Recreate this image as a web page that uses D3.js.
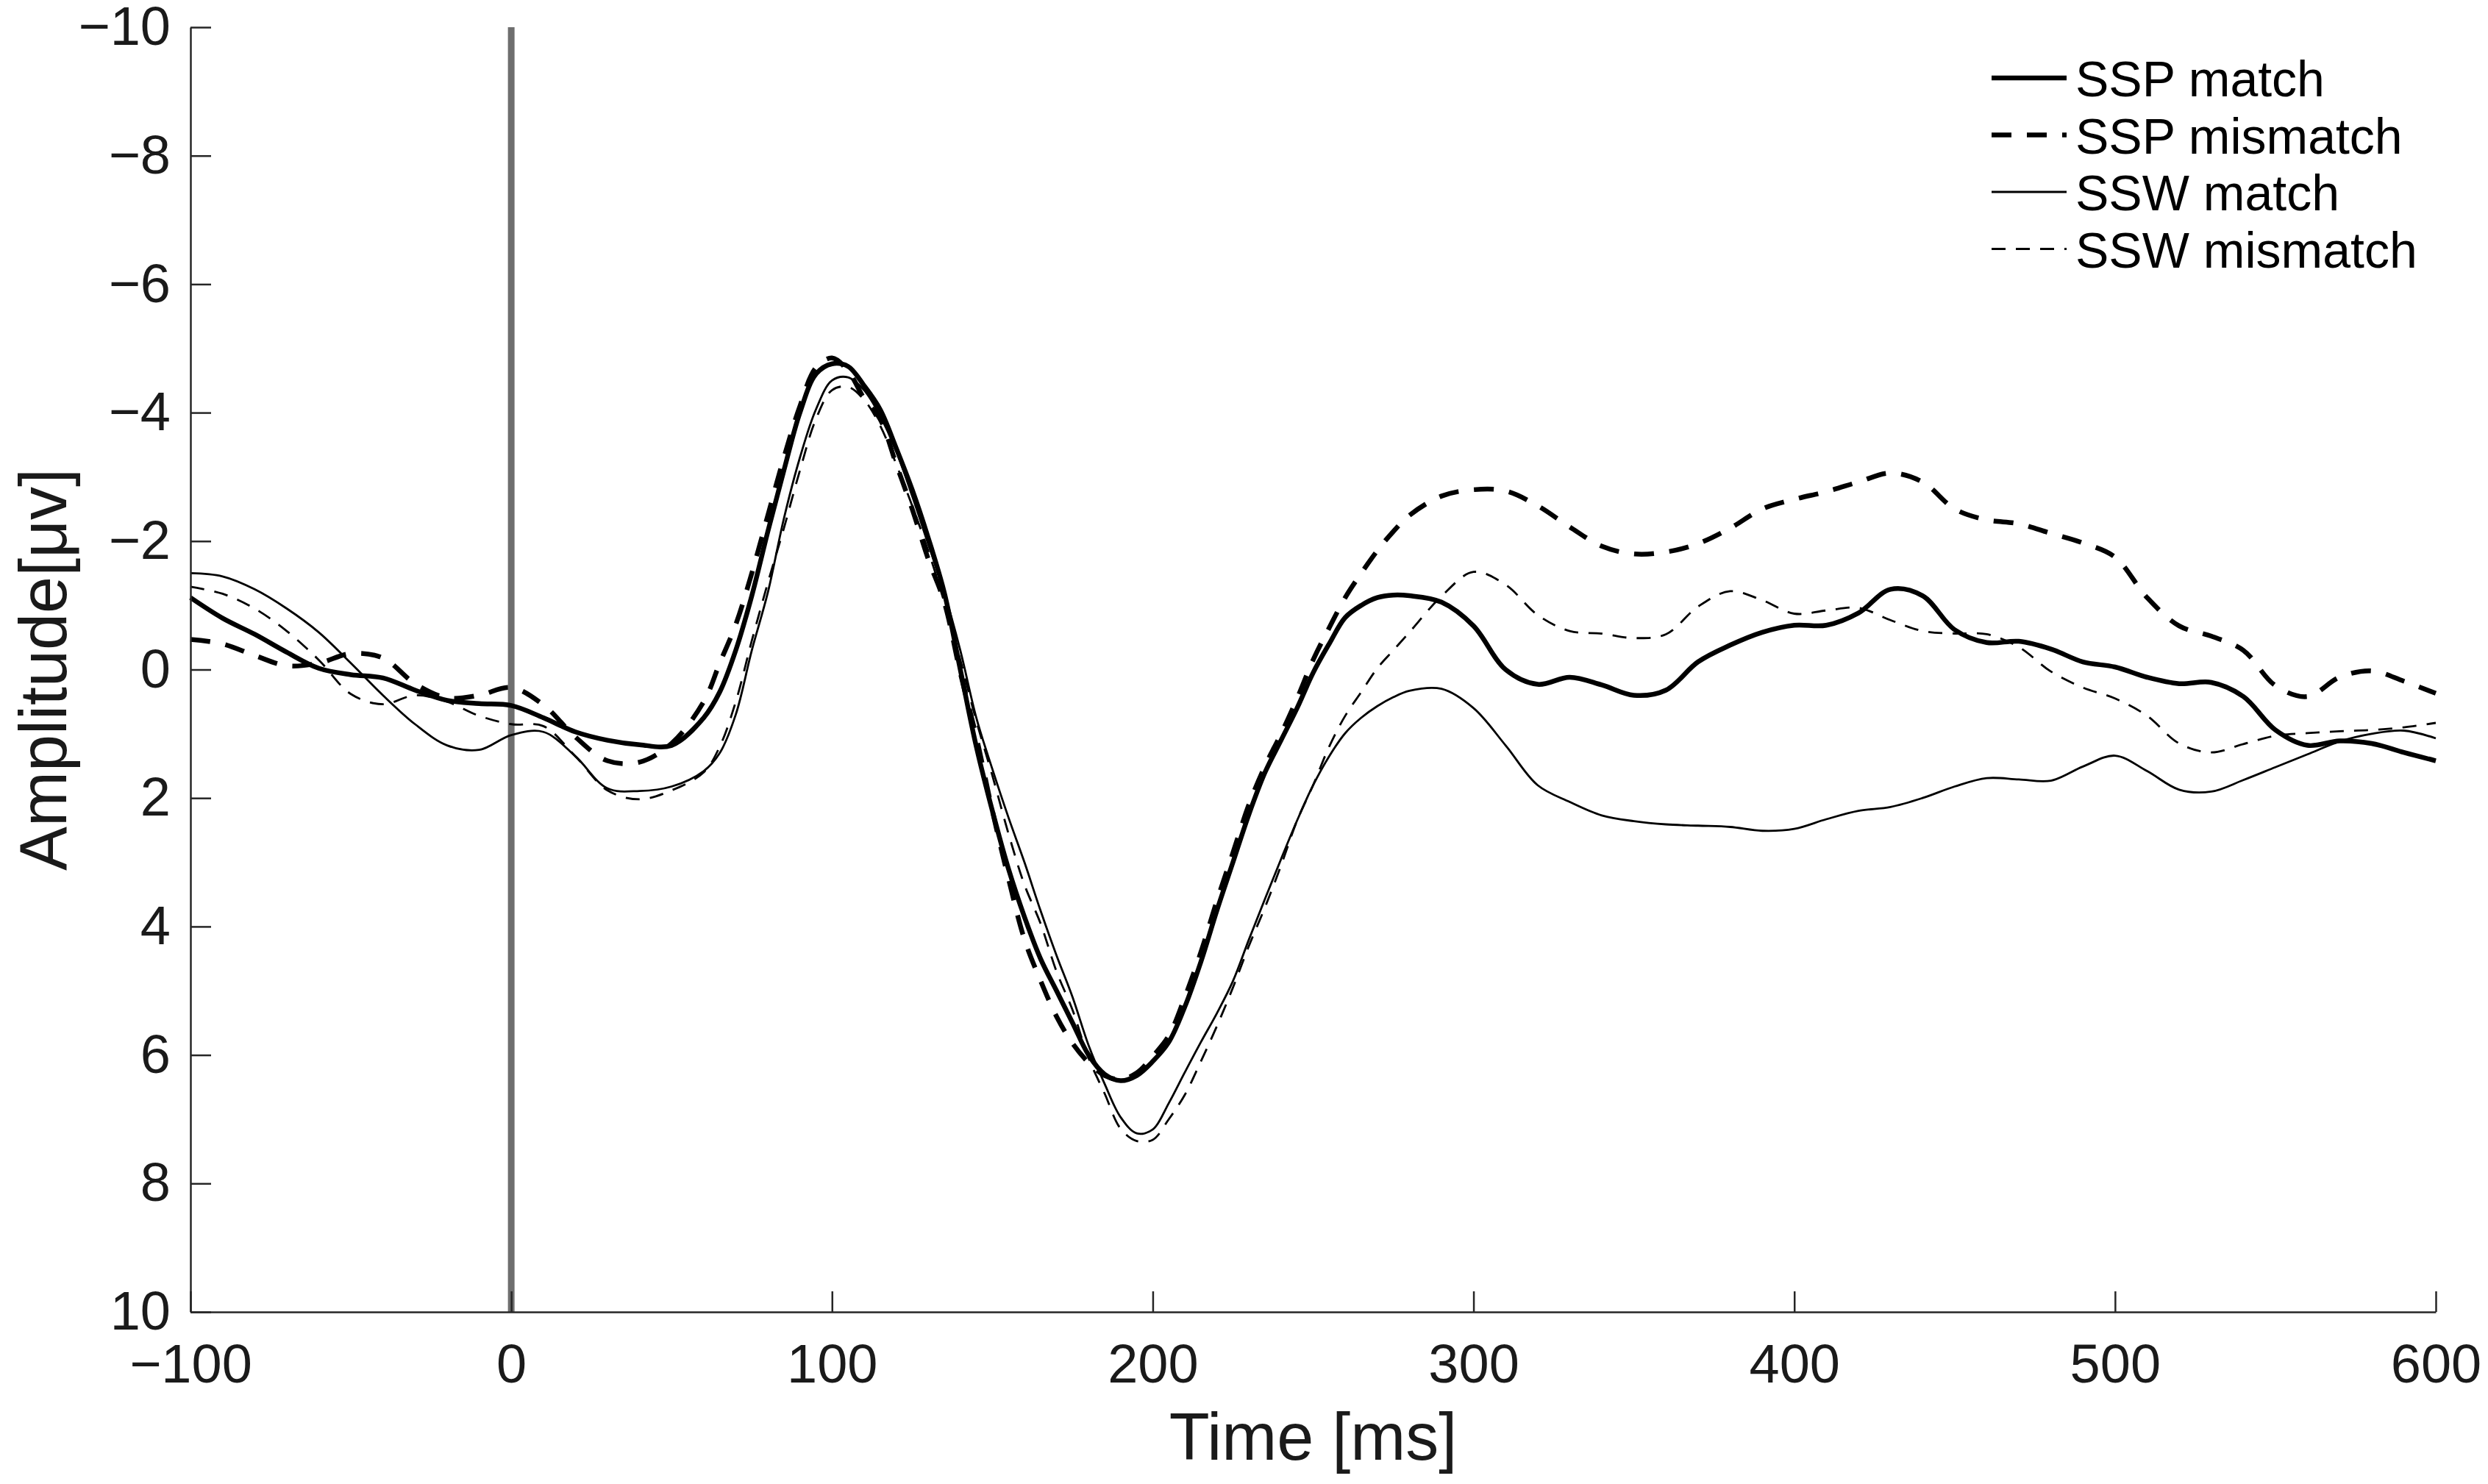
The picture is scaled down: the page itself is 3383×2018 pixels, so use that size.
<!DOCTYPE html>
<html>
<head>
<meta charset="utf-8">
<script src="https://cdn.jsdelivr.net/npm/d3@7"></script>
<style>
  body { margin: 0; background: #fff; }
  svg { display: block; }
</style>
</head>
<body>
<div id="chart"></div>
<script>
// time points [ms] shared by all four waveforms
const times = [
  -100, -90, -80, -70, -60, -50, -40, -30, -20, -10, 0, 10, 20, 30, 40, 50, 60,
  65, 70, 75, 80, 85, 90, 95, 100, 105, 110, 115, 120, 125, 130, 135, 140, 145, 150, 155, 160,
  165, 170, 175, 180, 185, 190, 195, 200, 205, 210, 215, 220, 225, 230, 235, 240, 245, 250, 255, 260,
  265, 270, 275, 280,
  290, 300, 310, 320, 330, 340, 350, 360, 370, 380, 390, 400, 410, 420, 430, 440, 450, 460, 470, 480,
  490, 500, 510, 520, 530, 540, 550, 560, 570, 580, 590, 600
]

const sspMatch = [
  -1.12, -0.80, -0.55, -0.27, -0.02, 0.08, 0.13, 0.32, 0.48, 0.53, 0.56, 0.75, 0.97, 1.10, 1.17, 1.18, 0.75,
  0.35, -0.30, -1.15, -2.15, -3.10, -4.00, -4.60, -4.76, -4.72, -4.42, -4.05, -3.45, -2.80, -2.05, -1.20, 0.00, 1.20, 2.20, 3.10, 3.85,
  4.50, 5.00, 5.50, 6.00, 6.30, 6.40, 6.32, 6.10, 5.80, 5.25, 4.55, 3.75, 3.00, 2.25, 1.60, 1.10, 0.60, 0.05, -0.40, -0.81,
  -1.00, -1.12, -1.16, -1.15,
  -1.05, -0.68, 0.00, 0.23, 0.12, 0.24, 0.40, 0.32, -0.12, -0.38, -0.58, -0.69, -0.69, -0.88, -1.25, -1.15, -0.62, -0.42, -0.44, -0.32,
  -0.12, -0.04, 0.12, 0.22, 0.20, 0.42, 0.94, 1.18, 1.11, 1.15, 1.29, 1.42
]

const sspMismatch = [
  -0.47, -0.40, -0.22, -0.06, -0.10, -0.25, -0.18, 0.22, 0.44, 0.40, 0.28, 0.55, 1.05, 1.42, 1.44, 1.15, 0.50,
  -0.10, -0.70, -1.50, -2.40, -3.30, -4.10, -4.70, -4.85, -4.65, -4.22, -3.90, -3.20, -2.50, -1.72, -1.05, 0.05, 1.05, 2.20, 3.25, 4.20,
  4.84, 5.40, 5.82, 6.12, 6.32, 6.38, 6.28, 6.02, 5.70, 5.10, 4.40, 3.60, 2.85, 2.10, 1.50, 1.00, 0.45, -0.15, -0.65, -1.12,
  -1.50, -1.85, -2.15, -2.40,
  -2.70, -2.80, -2.78, -2.55, -2.22, -1.92, -1.80, -1.83, -1.96, -2.20, -2.50, -2.65, -2.77, -2.92, -3.06, -2.92, -2.50, -2.33, -2.27, -2.12,
  -1.97, -1.75, -1.12, -0.68, -0.52, -0.30, 0.25, 0.42, 0.12, 0.02, 0.18, 0.37
]

const sswMatch = [
  -1.50, -1.45, -1.25, -0.95, -0.58, -0.10, 0.40, 0.85, 1.18, 1.25, 1.02, 0.97, 1.35, 1.85, 1.89, 1.82, 1.58,
  1.30, 0.70, -0.30, -1.20, -2.35, -3.30, -4.05, -4.50, -4.55, -4.35, -3.95, -3.40, -2.70, -1.95, -1.20, -0.30, 0.75, 1.55, 2.30, 3.00,
  3.75, 4.45, 5.10, 5.85, 6.45, 6.97, 7.22, 7.16, 6.75, 6.27, 5.80, 5.35, 4.85, 4.20, 3.57, 2.95, 2.35, 1.80, 1.35, 0.99,
  0.75, 0.57, 0.43, 0.33,
  0.30, 0.60, 1.18, 1.80, 2.06, 2.27, 2.36, 2.41, 2.43, 2.45, 2.51, 2.48, 2.33, 2.20, 2.14, 2.00, 1.82, 1.69, 1.71, 1.73,
  1.51, 1.34, 1.58, 1.87, 1.90, 1.72, 1.52, 1.32, 1.12, 1.00, 0.95, 1.07
]

const sswMismatch = [
  -1.29, -1.18, -0.95, -0.60, -0.15, 0.38, 0.54, 0.40, 0.50, 0.72, 0.85, 0.88, 1.35, 1.88, 2.02, 1.88, 1.60,
  1.20, 0.50, -0.45, -1.35, -2.20, -3.10, -3.90, -4.35, -4.40, -4.20, -3.80, -3.20, -2.55, -1.85, -1.05, -0.15, 0.80, 1.65, 2.55, 3.35,
  3.95, 4.70, 5.30, 6.05, 6.60, 7.15, 7.34, 7.32, 7.00, 6.62, 6.10, 5.55, 4.95, 4.30, 3.70, 3.05, 2.35, 1.80, 1.20, 0.72,
  0.35, -0.02, -0.30, -0.58,
  -1.14, -1.52, -1.32, -0.85, -0.60, -0.56, -0.49, -0.55, -0.98, -1.22, -1.08, -0.87, -0.92, -0.96, -0.77, -0.60, -0.56, -0.55, -0.35, 0.03,
  0.28, 0.45, 0.72, 1.15, 1.29, 1.16, 1.03, 0.99, 0.96, 0.94, 0.90, 0.83
]

const seriesNames = ['SSP match', 'SSP mismatch', 'SSW match', 'SSW mismatch']
const xTicks = [-100, 0, 100, 200, 300, 400, 500, 600]
const yTicks = [-10, -8, -6, -4, -2, 0, 2, 4, 6, 8, 10]
const stimulusOnset = 0

const seriesStyle = {
  'SSP match': { width: 6.5, dash: null },
  'SSP mismatch': { width: 6.5, dash: '27,21' },
  'SSW match': { width: 2.8, dash: null },
  'SSW mismatch': { width: 2.8, dash: '19,14' }
}

const dataset = [sspMatch, sspMismatch, sswMatch, sswMismatch].map((values, i) => ({
  name: seriesNames[i],
  values: values.map((v, j) => ({ t: times[j], v: v }))
}))

const width = 3383
const height = 2018
const margin = { top: 37, right: 71, bottom: 234, left: 259 }
const font = '"Liberation Sans", Arial, sans-serif'
const axisColor = '#262626'

const svg = d3.select('#chart')
  .append('svg')
  .attr('width', width)
  .attr('height', height)
  .style('background', '#fff')

const xScale = d3.scaleLinear()
  .domain([-100, 600])
  .range([margin.left, width - margin.right])
const yScale = d3.scaleLinear()
  .domain([-10, 10])
  .range([margin.top, height - margin.bottom])

const axisX = d3.axisBottom(xScale).tickValues(xTicks).tickFormat(d3.format('d'))
  .tickSize(-28).tickSizeOuter(0).tickPadding(43)
const axisY = d3.axisLeft(yScale).tickValues(yTicks).tickFormat(d3.format('d'))
  .tickSize(-28).tickSizeOuter(0).tickPadding(27)

// stimulus onset marker
svg.append('line')
  .attr('x1', xScale(stimulusOnset))
  .attr('x2', xScale(stimulusOnset))
  .attr('y1', yScale(-10))
  .attr('y2', yScale(10))
  .attr('stroke', '#6e6e6e')
  .attr('stroke-width', 9)

const line = d3.line()
  .x(d => xScale(d.t))
  .y(d => yScale(d.v))
  .curve(d3.curveCatmullRom.alpha(0.5))

svg.append('g')
  .selectAll('path')
  .data(dataset)
  .join('path')
  .attr('d', d => line(d.values))
  .attr('fill', 'none')
  .attr('stroke', '#000')
  .attr('stroke-width', d => seriesStyle[d.name].width)
  .attr('stroke-dasharray', d => seriesStyle[d.name].dash)
  .attr('stroke-linejoin', 'round')

const gx = svg.append('g')
  .attr('transform', `translate(0, ${height - margin.bottom})`)
  .call(axisX)
const gy = svg.append('g')
  .attr('transform', `translate(${margin.left}, 0)`)
  .call(axisY)

;[gx, gy].forEach(g => {
  g.select('.domain').attr('stroke', axisColor).attr('stroke-width', 2.5)
  g.selectAll('.tick line').attr('stroke', axisColor).attr('stroke-width', 2.5)
  g.selectAll('.tick text')
    .attr('fill', '#1a1a1a')
    .style('font-family', font)
    .style('font-size', '74px')
})

svg.append('text')
  .attr('x', (margin.left + width - margin.right) / 2)
  .attr('y', 1985)
  .attr('text-anchor', 'middle')
  .attr('fill', '#1a1a1a')
  .style('font-family', font)
  .style('font-size', '90px')
  .text('Time [ms]')

svg.append('text')
  .attr('transform', `translate(90, ${(margin.top + height - margin.bottom) / 2}) rotate(-90)`)
  .attr('text-anchor', 'middle')
  .attr('fill', '#1a1a1a')
  .style('font-family', font)
  .style('font-size', '90px')
  .text('Amplitude[μv]')

// legend
const legend = svg.append('g')
  .selectAll('g')
  .data(dataset)
  .join('g')
  .attr('transform', (d, i) => `translate(2708, ${106 + i * 77.5})`)
legend.append('line')
  .attr('x1', 0)
  .attr('x2', 102)
  .attr('stroke', '#000')
  .attr('stroke-width', d => seriesStyle[d.name].width)
  .attr('stroke-dasharray', d => seriesStyle[d.name].dash)
legend.append('text')
  .attr('x', 114)
  .attr('y', 25)
  .attr('fill', '#000')
  .style('font-family', font)
  .style('font-size', '68px')
  .text(d => d.name)
</script>
</body>
</html>
